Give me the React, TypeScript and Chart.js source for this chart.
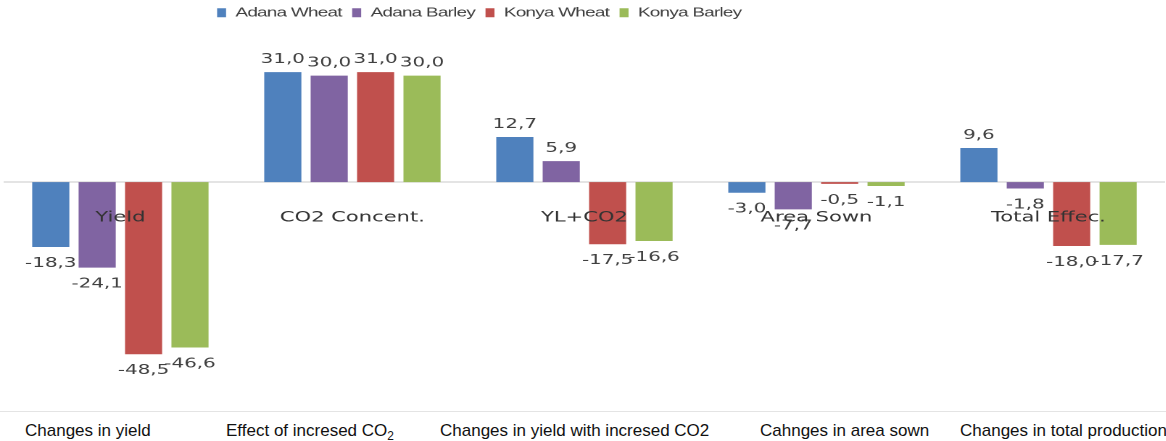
import React, { useEffect, useRef } from "react";
import { Chart, registerables } from "chart.js";

Chart.register(...registerables);

// ---- data ----
const categories = ["Yield", "CO2 Concent.", "YL+CO2", "Area Sown", "Total Effec."];
const seriesNames = ["Adana Wheat", "Adana Barley", "Konya Wheat", "Konya Barley"];
const adanaWheat = [-18.3, 31.0, 12.7, -3.0, 9.6];
const adanaBarley = [-24.1, 30.0, 5.9, -7.7, -1.8];
const konyaWheat = [-48.5, 31.0, -17.5, -0.5, -18.0];
const konyaBarley = [-46.6, 30.0, -16.6, -1.1, -17.7];
const seriesColors = ["#4F81BD", "#8064A2", "#C0504D", "#9BBB59"];
const yMin = -64.5;
const yMax = 42.8;

const captionText = [
  "Changes in yield",
  "Effect of incresed CO",
  "Changes in yield with incresed CO2",
  "Cahnges in area sown",
  "Changes in total production",
];
const captionSub = ["", "2", "", "", ""];

// ---- layout ----
const STRETCH = 1.45;
const PAGE_W = 1166;
const CHART_H = 411;
const captionLeft = [25, 226, 440, 760, 960];
const LEGEND_SPACING = "-0.5px";

const formatValue = (v: number) => v.toFixed(1).replace(".", ",");

const textStylePlugin = {
  id: "textStyle",
  beforeLayout(chart: any) {
    (chart.ctx as any).letterSpacing = LEGEND_SPACING;
  },
  afterLayout(chart: any) {
    (chart.ctx as any).letterSpacing = "0px";
    const l = chart.legend;
    if (l) {
      l.left += 139.5;
      l.right += 139.5;
      l.top -= 1;
      l.bottom -= 1;
    }
  },
  beforeDraw(chart: any) {
    (chart.ctx as any).letterSpacing = LEGEND_SPACING;
  },
  beforeDatasetsDraw(chart: any) {
    (chart.ctx as any).letterSpacing = "0px";
  },
  afterDatasetsDraw(chart: any) {
    const ctx = chart.ctx;
    ctx.save();
    ctx.font = "13.7px 'DejaVu Sans'";
    ctx.fillStyle = "#404040";
    ctx.textAlign = "center";
    ctx.textBaseline = "alphabetic";
    chart.data.datasets.forEach((ds: any, di: number) => {
      const meta = chart.getDatasetMeta(di);
      meta.data.forEach((bar: any, i: number) => {
        const v = ds.data[i] as number;
        const y = v >= 0 ? bar.y - 9 : bar.y + 20;
        ctx.fillText(formatValue(v), bar.x, y);
      });
    });
    ctx.restore();
  },
};

export default function App() {
  const canvasRef = useRef<HTMLCanvasElement | null>(null);

  useEffect(() => {
    if (!canvasRef.current) return;
    const seriesData = [adanaWheat, adanaBarley, konyaWheat, konyaBarley];
    const chart = new Chart(canvasRef.current, {
      type: "bar",
      data: {
        labels: categories,
        datasets: seriesNames.map((name, i) => ({
          label: name,
          data: seriesData[i],
          backgroundColor: seriesColors[i],
          borderWidth: 0,
          categoryPercentage: 0.8,
          barPercentage: 0.8,
        })),
      },
      options: {
        animation: false,
        responsive: true,
        maintainAspectRatio: false,
        devicePixelRatio: 2,
        layout: { padding: { left: 3, right: 1, top: 0, bottom: 0 } },
        plugins: {
          legend: {
            position: "top",
            align: "start",
            labels: {
              boxWidth: 6.2,
              boxHeight: 9,
              padding: 7.2,
              color: "#404040",
              font: {
                family: "'Liberation Sans', Arial, sans-serif",
                size: 13,
              },
            },
          },
          tooltip: { enabled: false },
        },
        scales: {
          x: {
            position: { y: 0 } as any,
            grid: { display: false, drawTicks: false },
            border: { display: true, color: "#c8c8c8", width: 1 },
            ticks: {
              padding: 27,
              color: "#333333",
              z: 1,
              maxRotation: 0,
              autoSkip: false,
              font: { family: "'DejaVu Sans'", size: 14.5 },
            },
          },
          y: {
            display: false,
            min: yMin,
            max: yMax,
            grid: { display: false },
          },
        },
      } as any,
      plugins: [textStylePlugin],
    });
    return () => chart.destroy();
  }, []);

  return (
    <div
      style={{
        position: "absolute",
        left: 0,
        top: 0,
        width: PAGE_W,
        height: 441,
        overflow: "hidden",
        background: "#ffffff",
      }}
    >
      <div
        style={{
          position: "absolute",
          left: 0,
          top: 0,
          width: PAGE_W / STRETCH,
          height: CHART_H,
          transform: `scaleX(${STRETCH})`,
          transformOrigin: "0 0",
        }}
      >
        <canvas ref={canvasRef} />
      </div>
      <div
        style={{
          position: "absolute",
          left: 0,
          top: CHART_H,
          width: PAGE_W,
          height: 1,
          background: "#e4e4e4",
        }}
      />
      {captionText.map((t, i) => (
        <div
          key={i}
          style={{
            position: "absolute",
            left: captionLeft[i],
            top: 421,
            whiteSpace: "nowrap",
            fontFamily: "'Liberation Sans', Arial, sans-serif",
            fontSize: 17,
            lineHeight: "20px",
            color: "#111111",
          }}
        >
          {t}
          {captionSub[i] ? <sub style={{ fontSize: "0.7em" }}>{captionSub[i]}</sub> : null}
        </div>
      ))}
    </div>
  );
}
